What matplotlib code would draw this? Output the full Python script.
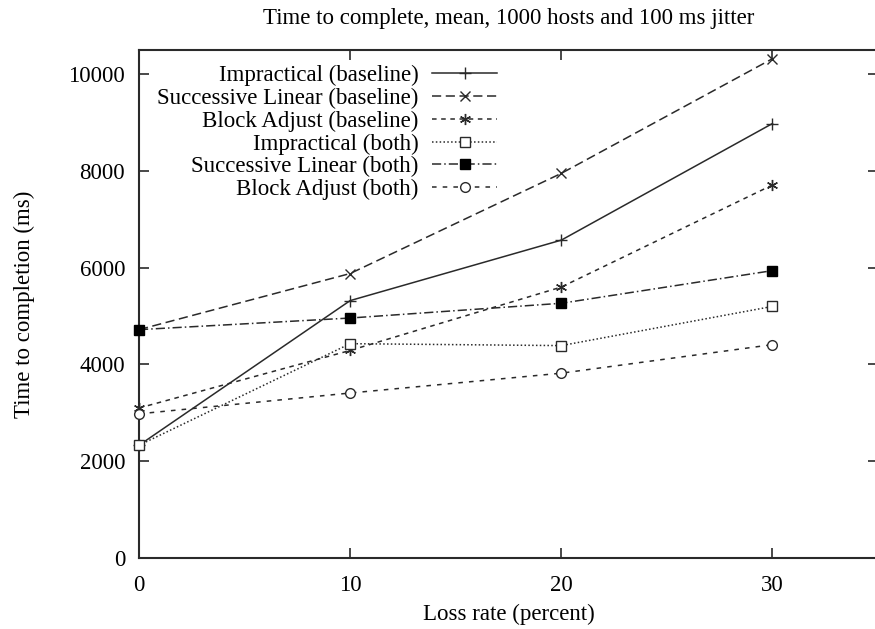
import matplotlib.pyplot as plt

plt.rcParams['font.family'] = ['Liberation Serif', 'DejaVu Serif']

# loss rate (percent)
loss = [0, 10, 20, 30]

# mean time to completion (ms)
imp_base = [2330, 5320, 6570, 8980]
sl_base = [4720, 5880, 7950, 10320]
ba_base = [3100, 4290, 5600, 7710]
imp_both = [2330, 4430, 4390, 5200]
sl_both = [4720, 4960, 5265, 5940]
ba_both = [2980, 3410, 3820, 4410]

labels = ['Impractical (baseline)', 'Successive Linear (baseline)',
          'Block Adjust (baseline)', 'Impractical (both)',
          'Successive Linear (both)', 'Block Adjust (both)']

W, H = 875, 629
fig = plt.figure(figsize=(W / 100, H / 100), dpi=100)
ax = fig.add_axes([139 / W, (H - 558) / H, (878 - 139) / W, (558 - 50) / H])

col = '#2a2a2a'
kw = dict(color=col, lw=1.1, clip_on=False, zorder=3)
ax.plot(loss, imp_base, ls='-', marker='+', ms=9, mew=1, label=labels[0], **kw)
ax.plot(loss, sl_base, ls=(0, (6, 3)), marker='x', ms=7, mew=1, label=labels[1], **kw)
ax.plot(loss, ba_base, ls=(0, (3, 3)), marker=(6, 2, 0), ms=8, mew=1, label=labels[2], **kw)
ax.plot(loss, imp_both, ls=(0, (1, 1.5)), marker='s', ms=7, mfc='white', mew=1, label=labels[3], **kw)
ax.plot(loss, sl_both, ls=(0, (6, 2, 1, 2)), marker='s', ms=7, mfc='black', mec='black', label=labels[4], **kw)
ax.plot(loss, ba_both, ls=(0, (3, 4)), marker='o', ms=7, mfc='white', mew=1, label=labels[5], **kw)

ax.set_xlim(0, 35)
ax.set_ylim(0, 10500)
ax.set_xticks([0, 10, 20, 30])
ax.set_yticks(range(0, 10001, 2000))
ax.tick_params(direction='in', length=7, width=1.2, labelsize=16.5,
               top=True, right=True, color=col)
ax.tick_params(axis='x', pad=12)
ax.tick_params(axis='y', pad=10)
for s in ax.spines.values():
    s.set_linewidth(1.5)
    s.set_color(col)

ax.set_title('Time to complete, mean, 1000 hosts and 100 ms jitter', fontsize=16.5, pad=19)
ax.set_xlabel('Loss rate (percent)', fontsize=16.5, labelpad=6)
ax.set_ylabel('Time to completion (ms)', fontsize=16.5, labelpad=24)

ax.legend(loc='upper left', bbox_to_anchor=((157 - 139) / 739, (558 - 65) / 508),
          markerfirst=False, frameon=False, fontsize=16.5, handlelength=2.85,
          handletextpad=0.6, labelspacing=0.07, borderpad=0, borderaxespad=0)

fig.savefig('out.png', dpi=100)
